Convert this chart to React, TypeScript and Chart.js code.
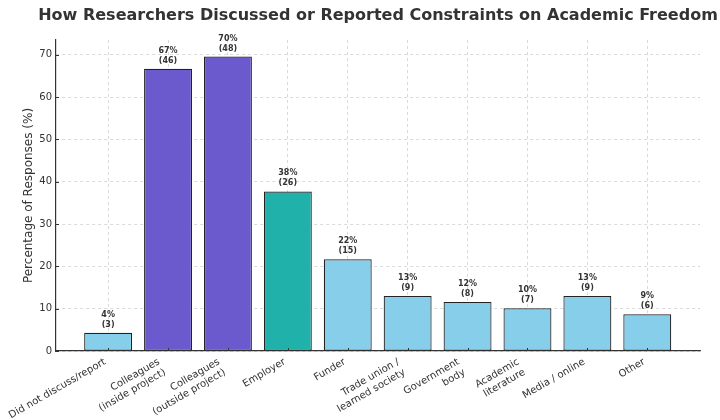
import React, { useEffect, useRef } from "react";
import { Chart, registerables } from "chart.js";

Chart.register(...registerables);

const categories: string[][] = [
  ["Did not discuss/report"],
  ["Colleagues", "(inside project)"],
  ["Colleagues", "(outside project)"],
  ["Employer"],
  ["Funder"],
  ["Trade union /", "learned society"],
  ["Government", "body"],
  ["Academic", "literature"],
  ["Media / online"],
  ["Other"],
];
const percentages: number[] = [4.3, 66.7, 69.6, 37.7, 21.7, 13.0, 11.6, 10.1, 13.0, 8.7];
const percentLabels: string[] = ["4%", "67%", "70%", "38%", "22%", "13%", "12%", "10%", "13%", "9%"];
const counts: number[] = [3, 46, 48, 26, 15, 9, 8, 7, 9, 6];
const barColors: string[] = [
  "#87CEEB", "#6A5ACD", "#6A5ACD", "#20B2AA", "#87CEEB",
  "#87CEEB", "#87CEEB", "#87CEEB", "#87CEEB", "#87CEEB",
];
const yTicks: number[] = [0, 10, 20, 30, 40, 50, 60, 70];
const titleText = "How Researchers Discussed or Reported Constraints on Academic Freedom";
const yTitle = "Percentage of Responses (%)";

const FONT = "'DejaVu Sans', sans-serif";

const titlePlugin = {
  id: "customTitle",
  afterDraw(chart: any) {
    const { ctx, chartArea } = chart;
    ctx.save();
    ctx.font = `bold 16px ${FONT}`;
    ctx.fillStyle = "#333333";
    ctx.textAlign = "center";
    ctx.textBaseline = "middle";
    ctx.fillText(titleText, (chartArea.left + chartArea.right) / 2, 16);
    ctx.restore();
  },
};

const valueLabelPlugin = {
  id: "valueLabels",
  afterDraw(chart: any) {
    const { ctx } = chart;
    const meta = chart.getDatasetMeta(0);
    ctx.save();
    ctx.font = `bold 8px ${FONT}`;
    ctx.fillStyle = "#333333";
    ctx.textAlign = "center";
    ctx.textBaseline = "alphabetic";
    meta.data.forEach((bar: any, i: number) => {
      ctx.fillText(`(${counts[i]})`, bar.x, bar.y - 6);
      ctx.fillText(percentLabels[i], bar.x, bar.y - 16);
    });
    ctx.restore();
  },
};

// Rotated category labels, right-aligned to the tick like matplotlib's ha="right"
const xLabelPlugin = {
  id: "xLabels",
  afterDraw(chart: any) {
    const { ctx, chartArea } = chart;
    const xScale = chart.scales.x;
    const yScale = chart.scales.y;
    const theta = Math.PI / 6;
    const c = Math.cos(theta);
    const L = 12;
    ctx.save();
    // small inward tick marks
    ctx.strokeStyle = "#333333";
    ctx.lineWidth = 1;
    categories.forEach((_, i) => {
      const x = Math.round(xScale.getPixelForValue(i)) + 0.5;
      ctx.beginPath();
      ctx.moveTo(x, chartArea.bottom);
      ctx.lineTo(x, chartArea.bottom - 3);
      ctx.stroke();
    });
    yTicks.forEach((v) => {
      const y = Math.round(yScale.getPixelForValue(v)) + 0.5;
      ctx.beginPath();
      ctx.moveTo(chartArea.left, y);
      ctx.lineTo(chartArea.left + 3, y);
      ctx.stroke();
    });
    ctx.font = `10px ${FONT}`;
    ctx.fillStyle = "#333333";
    ctx.textAlign = "right";
    ctx.textBaseline = "top";
    const y0 = chartArea.bottom + 5;
    categories.forEach((lines, i) => {
      const H = lines.length * L;
      const x = xScale.getPixelForValue(i);
      ctx.save();
      ctx.translate(x, y0 + H * c);
      ctx.rotate(-theta);
      lines.forEach((line, j) => {
        ctx.fillText(line, 0, -H + j * L + 1);
      });
      ctx.restore();
    });
    ctx.restore();
  },
};

export default function App() {
  const ref = useRef<HTMLCanvasElement | null>(null);
  useEffect(() => {
    if (!ref.current) return;
    const chart = new Chart(ref.current, {
      type: "bar",
      data: {
        datasets: [
          {
            data: percentages.map((v, i) => ({ x: i, y: v })),
            backgroundColor: barColors,
            borderColor: "#222222",
            borderWidth: 1.2,
            borderSkipped: false,
            barPercentage: 1,
            categoryPercentage: 0.8,
          },
        ],
      },
      options: {
        responsive: false,
        animation: false,
        layout: { padding: { top: 40, right: 20, left: 0, bottom: 0 } },
        plugins: {
          legend: { display: false },
          tooltip: { enabled: false },
          title: { display: false },
        },
        scales: {
          x: {
            type: "linear",
            min: -0.87,
            max: 9.88,
            offset: false,
            z: 1,
            afterBuildTicks: (axis: any) => {
              axis.ticks = categories.map((_, i) => ({ value: i }));
            },
            afterFit: (axis: any) => {
              axis.height = 69;
            },
            ticks: {
              display: false,
              autoSkip: false,
            },
            grid: {
              offset: false,
              color: "rgba(190,190,190,0.7)",
              lineWidth: 0.8,
              drawTicks: false,
              tickLength: 0,
            },
            border: { display: true, color: "#333333", width: 1.2, dash: [3, 3] },
          } as any,
          y: {
            min: 0,
            max: 73.5,
            z: 1,
            afterBuildTicks: (axis: any) => {
              axis.ticks = yTicks.map((v) => ({ value: v }));
            },
            afterFit: (axis: any) => {
              axis.width = 56;
            },
            ticks: {
              padding: 4,
              color: "#333333",
              font: { family: FONT, size: 10 },
            },
            grid: {
              color: "rgba(190,190,190,0.7)",
              lineWidth: 0.8,
              drawTicks: false,
            },
            border: { display: true, color: "#333333", width: 1.2, dash: [3, 3] },
            title: {
              display: true,
              text: yTitle,
              color: "#333333",
              font: { family: FONT, size: 12 },
              padding: { top: 22, bottom: 0 },
            },
          } as any,
        },
      } as any,
      plugins: [titlePlugin, valueLabelPlugin, xLabelPlugin],
    });
    return () => chart.destroy();
  }, []);
  return (
    <div style={{ position: "absolute", left: 0, top: 0, width: 720, height: 420 }}>
      <canvas ref={ref} width={720} height={420} />
    </div>
  );
}
